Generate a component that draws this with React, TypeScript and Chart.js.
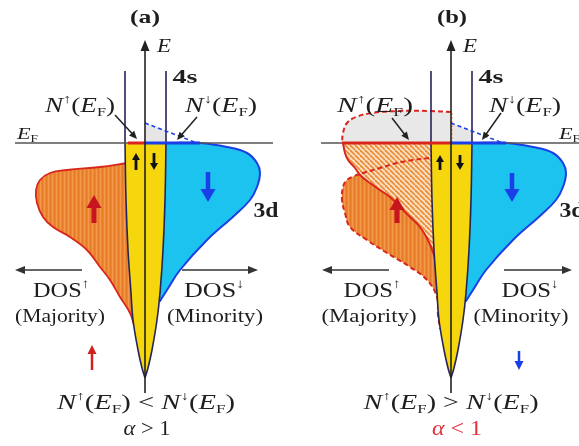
import { useEffect, useRef } from 'react';
import { Chart, registerables } from 'chart.js';

Chart.register(...registerables);

type XY = [number, number];

// Frame: x = DOS measured from each panel's energy axis (spin-up to the left),
// y = energy measured from E_F (E_F = 0).
const X_RANGE: XY = [-145, 434];
const E_RANGE: XY = [-303, 143];
const PANEL_SHIFT = [0, 306];

// 4s band edges, from E_F down to the band bottom
const S4_UP_EDGE: XY[] = [[-20, 0], [-19, -57], [-17, -107], [-14, -150], [-12, -177], [-7, -207], [-3, -225], [0, -235]];
const S4_DN_EDGE: XY[] = [[21, 0], [20, -57], [18, -107], [15, -150], [12, -177], [7, -207], [3, -225], [0, -235]];
const S4_TOP = 72;
// empty 4s spin-down states above E_F (dashed)
const S4_DN_ABOVE: XY[] = [[0, 20], [52, 0]];
const S4_DN_EMPTY: XY[] = [[0, 0], [0, 20], [21, 12], [21, 0]];

// 3d spin-down (minority), both panels
const D3_DN: XY[] = [[10, 0], [22, 0], [55, 0], [82, -4], [102, -10], [112, -20], [115, -30], [112, -44], [105, -57], [90, -72], [62, -97], [35, -127], [22, -147], [15, -158], [15, -158], [8, -158]];
// 3d spin-up (majority), panel (a)
const D3_UP_A: XY[] = [[-10, -20], [-18, -20], [-18, -20], [-45, -24], [-78, -27], [-95, -30], [-105, -37], [-109, -47], [-108, -60], [-102, -74], [-92, -84], [-75, -94], [-58, -107], [-45, -124], [-35, -137], [-25, -154], [-15, -170], [-11, -182], [-11, -182], [-6, -182]];
// panel (b): original spin-up band (filled below E_F, empty above E_F)
const D3_UP_B_EMPTY: XY[] = [[0, 31], [-22, 32], [-52, 32], [-79, 30], [-95, 26], [-104, 20], [-108, 10], [-109, 0], [-109, 0], [0, 0]];
const D3_UP_B_FILLED: XY[] = [[-5, 0], [-108, 0], [-108, 0], [-106, -10], [-103, -17], [-96, -25], [-91, -32], [-81, -40], [-71, -47], [-61, -54], [-51, -64], [-41, -74], [-31, -84], [-23, -97], [-17, -112], [-15, -120], [-15, -120], [-5, -120]];
// panel (b): shifted spin-up band
const D3_UP_B_SHIFTED: XY[] = [[-6, -13], [-13, -14], [-38, -17], [-54, -20], [-71, -25], [-88, -30], [-99, -34], [-105, -38], [-108, -44], [-109, -57], [-106, -70], [-101, -84], [-84, -97], [-64, -110], [-41, -124], [-24, -137], [-14, -154], [-13, -172], [-11, -185], [-11, -185], [-5, -185]];

// Fermi level and the DOS at E_F
const EF_LINE_A: XY[] = [[-130, 0], [128, 0]];
const EF_LINE_B: XY[] = [[-130, 0], [140, 0]];
const N_UP_EF_A: XY[] = [[-17, 0], [0, 0]];
const N_UP_EF_B: XY[] = [[-109, 0], [0, 0]];
const N_DN_EF: XY[] = [[0, 0], [55, 0]];

const RED = '#d8261c';
const BLUE = '#1a3fe6';
const CYAN = '#1cc3ef';
const YELLOW = '#f6d60c';
const NAVY = '#25255c';
const INK = '#1e1e1e';
const FAMILY = '"Liberation Serif", "DejaVu Serif", "Times New Roman", serif';

type Run = { t: string; i?: boolean; b?: boolean; sup?: boolean; sub?: boolean };
type Label = { runs: Run[]; at: XY; size: number; width: number; color?: string; align?: 'left' | 'center' };
type Arrow = { from: XY; to: XY; color: string; w: number; head: number; hw: number };

const NUP: Run[] = [{ t: 'N', i: true }, { t: '↑', sup: true }, { t: '(' }, { t: 'E', i: true }, { t: 'F', sub: true }, { t: ')' }];
const NDN: Run[] = [{ t: 'N', i: true }, { t: '↓', sup: true }, { t: '(' }, { t: 'E', i: true }, { t: 'F', sub: true }, { t: ')' }];
const EF: Run[] = [{ t: 'E', i: true }, { t: 'F', sub: true }];

const LABELS: Label[][] = [
  [
    { runs: [{ t: '(a)', b: true }], at: [0, 126], size: 19, width: 30 },
    { runs: [{ t: 'E', i: true }], at: [19, 97], size: 19, width: 14 },
    { runs: [{ t: '4s', b: true }], at: [40, 66], size: 19, width: 25 },
    { runs: [{ t: '3d', b: true }], at: [121, -67], size: 20, width: 25 },
    { runs: EF, at: [-128, 10], size: 17, width: 21, align: 'left' },
    { runs: NUP, at: [-65, 38], size: 21, width: 70 },
    { runs: NDN, at: [76, 38], size: 21, width: 72 },
    { runs: [{ t: 'DOS' }, { t: '↑', sup: true }], at: [-84, -147], size: 22, width: 56 },
    { runs: [{ t: '(Majority)' }], at: [-85, -173], size: 19, width: 90 },
    { runs: [{ t: 'DOS' }, { t: '↓', sup: true }], at: [69, -147], size: 22, width: 60 },
    { runs: [{ t: '(Minority)' }], at: [70, -173], size: 19, width: 96 },
    { runs: [...NUP, { t: ' < ' }, ...NDN], at: [1, -259], size: 20, width: 178 },
    { runs: [{ t: 'α', i: true }, { t: ' > 1' }], at: [2, -285], size: 21, width: 47 },
  ],
  [
    { runs: [{ t: '(b)', b: true }], at: [1, 126], size: 19, width: 30 },
    { runs: [{ t: 'E', i: true }], at: [19, 97], size: 19, width: 14 },
    { runs: [{ t: '4s', b: true }], at: [40, 66], size: 19, width: 25 },
    { runs: [{ t: '3d', b: true }], at: [121, -67], size: 20, width: 25 },
    { runs: EF, at: [108, 10], size: 17, width: 21, align: 'left' },
    { runs: NUP, at: [-76, 38], size: 21, width: 76 },
    { runs: NDN, at: [74, 38], size: 21, width: 72 },
    { runs: [{ t: 'DOS' }, { t: '↑', sup: true }], at: [-79, -147], size: 22, width: 57 },
    { runs: [{ t: '(Majority)' }], at: [-82, -173], size: 19, width: 95 },
    { runs: [{ t: 'DOS' }, { t: '↓', sup: true }], at: [79, -147], size: 22, width: 57 },
    { runs: [{ t: '(Minority)' }], at: [70, -173], size: 19, width: 95 },
    { runs: [...NUP, { t: ' > ' }, ...NDN], at: [0, -259], size: 20, width: 175 },
    { runs: [{ t: 'α', i: true }, { t: ' < 1' }], at: [6, -285], size: 21, width: 50, color: '#e0303a' },
  ],
];

const AXIS: Arrow = { from: [0, -250], to: [0, 103], color: '#222', w: 1.6, head: 11, hw: 4.5 };
const ARROWS: Arrow[][] = [
  [
    { from: [-30, 28], to: [-8, 4], color: '#222', w: 1.5, head: 8, hw: 3.5 },
    { from: [52, 26], to: [32, 3], color: '#222', w: 1.5, head: 8, hw: 3.5 },
    { from: [-63, -127], to: [-130, -127], color: '#333', w: 1.6, head: 10, hw: 4 },
    { from: [37, -127], to: [113, -127], color: '#333', w: 1.6, head: 10, hw: 4 },
    { from: [-51, -80], to: [-51, -52], color: '#c8141e', w: 5, head: 13, hw: 7.5 },
    { from: [63, -29], to: [63, -59], color: BLUE, w: 4.5, head: 13, hw: 7.5 },
    { from: [-9, -27], to: [-9, -10], color: '#111', w: 2.8, head: 7, hw: 4 },
    { from: [9, -10], to: [9, -27], color: '#111', w: 2.8, head: 7, hw: 4 },
    { from: [-53, -227], to: [-53, -202], color: '#d02020', w: 2.5, head: 9, hw: 4.5 },
  ],
  [
    { from: [-59, 25], to: [-42, 3], color: '#222', w: 1.5, head: 8, hw: 3.5 },
    { from: [50, 30], to: [31, 3], color: '#222', w: 1.5, head: 8, hw: 3.5 },
    { from: [-62, -127], to: [-129, -127], color: '#333', w: 1.6, head: 10, hw: 4 },
    { from: [53, -127], to: [121, -127], color: '#333', w: 1.6, head: 10, hw: 4 },
    { from: [-54, -80], to: [-54, -54], color: '#c8141e', w: 5, head: 13, hw: 7.5 },
    { from: [61, -30], to: [61, -59], color: BLUE, w: 4.5, head: 13, hw: 7.5 },
    { from: [-11, -27], to: [-11, -12], color: '#111', w: 2.8, head: 7, hw: 4 },
    { from: [9, -12], to: [9, -27], color: '#111', w: 2.8, head: 7, hw: 4 },
    { from: [68, -208], to: [68, -227], color: BLUE, w: 2.5, head: 9, hw: 4.5 },
  ],
];

function fontFor(r: Run, size: number) {
  const s = r.sup || r.sub ? size * 0.6 : size;
  return `${r.i ? 'italic ' : ''}${r.b ? 'bold ' : ''}${s}px ${FAMILY}`;
}

function drawRich(ctx: CanvasRenderingContext2D, l: Label, px: number, py: number) {
  ctx.save();
  let total = 0;
  const ws = l.runs.map((r) => {
    ctx.font = fontFor(r, l.size);
    const w = ctx.measureText(r.t).width;
    total += w;
    return w;
  });
  const sx = l.width ? l.width / total : 1;
  ctx.translate(px, py + l.size * 0.33);
  ctx.scale(sx, 1);
  let cx = l.align === 'left' ? 0 : -total / 2;
  ctx.fillStyle = l.color || INK;
  ctx.textBaseline = 'alphabetic';
  ctx.textAlign = 'left';
  l.runs.forEach((r, k) => {
    ctx.font = fontFor(r, l.size);
    const dy = r.sup ? -l.size * 0.42 : r.sub ? l.size * 0.2 : 0;
    ctx.fillText(r.t, cx, dy);
    cx += ws[k];
  });
  ctx.restore();
}

function drawArrow(ctx: CanvasRenderingContext2D, x1: number, y1: number, x2: number, y2: number, a: Arrow) {
  const dx = x2 - x1, dy = y2 - y1;
  const L = Math.hypot(dx, dy) || 1;
  const ux = dx / L, uy = dy / L;
  const bx = x2 - ux * a.head, by = y2 - uy * a.head;
  ctx.save();
  ctx.strokeStyle = a.color;
  ctx.fillStyle = a.color;
  ctx.lineWidth = a.w;
  ctx.beginPath();
  ctx.moveTo(x1, y1);
  ctx.lineTo(bx + ux, by + uy);
  ctx.stroke();
  ctx.beginPath();
  ctx.moveTo(x2, y2);
  ctx.lineTo(bx - uy * a.hw, by + ux * a.hw);
  ctx.lineTo(bx + uy * a.hw, by - ux * a.hw);
  ctx.closePath();
  ctx.fill();
  ctx.restore();
}

const overlay = {
  id: 'overlay',
  afterDatasetsDraw(chart: any) {
    const { ctx } = chart;
    const xs = chart.scales.x, ys = chart.scales.y;
    PANEL_SHIFT.forEach((s, p) => {
      const all = [AXIS, ...ARROWS[p]];
      all.forEach((a) => {
        drawArrow(ctx, xs.getPixelForValue(a.from[0] + s), ys.getPixelForValue(a.from[1]), xs.getPixelForValue(a.to[0] + s), ys.getPixelForValue(a.to[1]), a);
      });
      LABELS[p].forEach((l) => drawRich(ctx, l, xs.getPixelForValue(l.at[0] + s), ys.getPixelForValue(l.at[1])));
    });
  },
};

function stripePattern(ctx: CanvasRenderingContext2D) {
  const c = document.createElement('canvas');
  c.width = 4; c.height = 4;
  const g = c.getContext('2d')!;
  g.fillStyle = '#ef852c'; g.fillRect(0, 0, 4, 4);
  g.fillStyle = '#f4984c'; g.fillRect(0, 0, 1, 4);
  g.fillStyle = '#e67c25'; g.fillRect(2, 0, 1, 4);
  return ctx.createPattern(c, 'repeat');
}

function hatchPattern(ctx: CanvasRenderingContext2D) {
  const c = document.createElement('canvas');
  c.width = 5; c.height = 5;
  const g = c.getContext('2d')!;
  g.fillStyle = '#fbe1c4'; g.fillRect(0, 0, 5, 5);
  g.strokeStyle = '#eb8e3a'; g.lineWidth = 1.8;
  for (const k of [-5, 0, 5]) { g.beginPath(); g.moveTo(k, 0); g.lineTo(k + 5, 5); g.stroke(); }
  return ctx.createPattern(c, 'repeat');
}

export default function App() {
  const ref = useRef<HTMLCanvasElement>(null);
  useEffect(() => {
    document.body.style.margin = '0';
    const canvas = ref.current!;
    const ctx = canvas.getContext('2d')!;
    const orange = stripePattern(ctx);
    const hatch = hatchPattern(ctx);
    const P = (arr: XY[], s: number) => arr.map(([x, y]) => ({ x: x + s, y }));
    const layers: any[] = [];
    const add = (data: any[], o: any) => layers.push({
      data, pointRadius: 0, pointHoverRadius: 0, borderWidth: 0, borderColor: 'rgba(0,0,0,0)',
      backgroundColor: 'rgba(0,0,0,0)', fill: false, tension: 0.4, ...o,
    });

    PANEL_SHIFT.forEach((s, p) => {
      // empty states above E_F
      add(P(S4_DN_EMPTY, s), { fill: 'shape', backgroundColor: '#e6e6e6', tension: 0 });
      if (p === 1) {
        add(P(D3_UP_B_EMPTY, s), { fill: 'shape', backgroundColor: '#e8e8e8', borderColor: RED, borderWidth: 2, borderDash: [5, 3] });
        add(P([[1, 0], [1, 31]], s), { borderColor: '#e58a4a', borderWidth: 1, borderDash: [2, 2], tension: 0 });
      }
      // 3d fills
      if (p === 0) {
        add(P(D3_UP_A, s), { fill: 'shape', backgroundColor: orange });
      } else {
        add(P(D3_UP_B_SHIFTED, s), { fill: 'shape', backgroundColor: orange });
        add(P(D3_UP_B_FILLED, s), { fill: 'shape', backgroundColor: hatch });
      }
      add(P(D3_DN, s), { fill: 'shape', backgroundColor: CYAN });
      // 3d outlines
      if (p === 0) {
        add(P(D3_UP_A, s), { borderColor: RED, borderWidth: 1.8 });
      } else {
        add(P(D3_UP_B_SHIFTED, s), { borderColor: RED, borderWidth: 2, borderDash: [5, 3] });
        add(P(D3_UP_B_FILLED, s), { borderColor: RED, borderWidth: 2 });
      }
      add(P(D3_DN, s), { borderColor: BLUE, borderWidth: 2 });
      // 4s band
      const band = [...S4_UP_EDGE, S4_UP_EDGE[S4_UP_EDGE.length - 1], ...[...S4_DN_EDGE].reverse(), S4_DN_EDGE[0]];
      add(P(band, s), { fill: 'shape', backgroundColor: YELLOW });
      const upLine: XY[] = [[S4_UP_EDGE[0][0], S4_TOP], S4_UP_EDGE[0], ...S4_UP_EDGE];
      const dnLine: XY[] = [[S4_DN_EDGE[0][0], S4_TOP], S4_DN_EDGE[0], ...S4_DN_EDGE];
      add(P(upLine, s), { borderColor: NAVY, borderWidth: 1.6 });
      add(P(dnLine, s), { borderColor: NAVY, borderWidth: 1.6 });
      add(P(S4_DN_ABOVE, s), { borderColor: BLUE, borderWidth: 1.5, borderDash: [4, 3], tension: 0 });
      // Fermi level
      add(P(p === 0 ? EF_LINE_A : EF_LINE_B, s), { borderColor: '#555', borderWidth: 1.5, tension: 0 });
      add(P(p === 0 ? N_UP_EF_A : N_UP_EF_B, s), { borderColor: RED, borderWidth: 3, tension: 0 });
      add(P(N_DN_EF, s), { borderColor: BLUE, borderWidth: 3, tension: 0 });
    });

    const n = layers.length;
    layers.forEach((d, i) => { d.order = n - i; });

    const chart = new Chart(canvas, {
      type: 'line',
      data: { datasets: layers },
      options: {
        responsive: false,
        devicePixelRatio: 1,
        animation: false,
        events: [],
        layout: { padding: 0 },
        plugins: { legend: { display: false }, tooltip: { enabled: false } },
        scales: {
          x: { type: 'linear', min: X_RANGE[0], max: X_RANGE[1], display: false },
          y: { type: 'linear', min: E_RANGE[0], max: E_RANGE[1], display: false },
        },
      },
      plugins: [overlay],
    });
    return () => chart.destroy();
  }, []);
  return (
    <div style={{ width: 579, height: 446, background: '#fff' }}>
      <canvas ref={ref} width={579} height={446} style={{ display: 'block' }} />
    </div>
  );
}
